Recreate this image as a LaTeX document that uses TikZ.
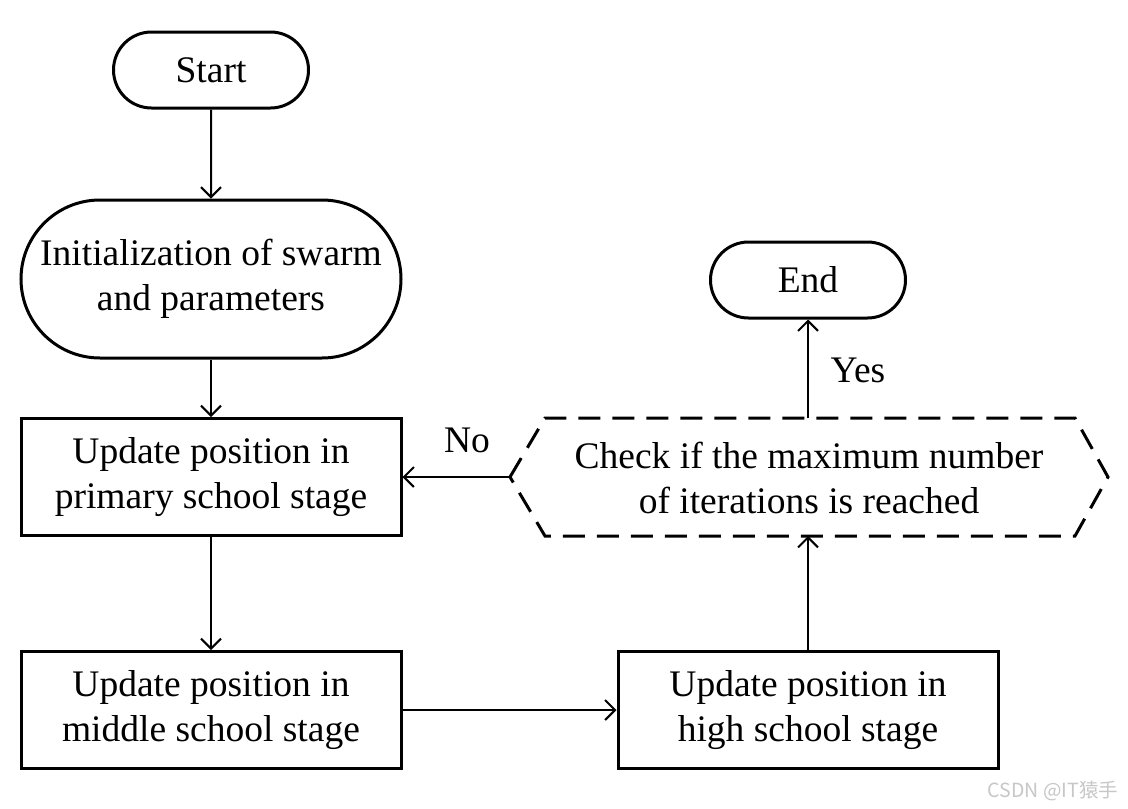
\documentclass[tikz,border=0pt]{standalone}
\usepackage{fontspec}
\setmainfont{Liberation Serif}
\newfontfamily\cjkfont{Noto Sans CJK SC}
\usetikzlibrary{arrows.meta,shapes.misc}
\begin{document}
\begin{tikzpicture}[x=1pt,y=-1pt,
  every node/.style={font=\fontsize{37.5}{45}\selectfont, align=center},
  term/.style={draw, rounded rectangle, line width=3pt, minimum width=195pt, minimum height=76pt, inner sep=0pt},
  init/.style={draw, rounded rectangle, line width=3pt, minimum width=380pt, minimum height=158pt, inner sep=0pt},
  proc/.style={draw, rectangle, line width=3pt, minimum width=380pt, minimum height=117pt, inner sep=0pt},
  conn/.style={line width=2pt, -{Straight Barb[length=10pt,width=20pt,line width=2pt]}},
  hexline/.style={line width=3pt, dash pattern=on 22pt off 12pt, line join=miter},
  lbl/.style={inner sep=0pt},
  wm/.style={inner sep=0pt, text=black!22, font=\cjkfont\fontsize{19.5}{22}\selectfont}
]
\useasboundingbox (0,0) rectangle (1128,809);
\fill[white] (0,0) rectangle (1128,809);

\node[term] (start) at (211,70) {Start};
\node[init] (init) at (211,279) {Initialization of swarm\\and parameters};
\node[proc] (prim) at (211,477) {Update position in\\primary school stage};
\node[proc] (mid) at (211,710) {Update position in\\middle school stage};
\node[proc] (high) at (808,710) {Update position in\\high school stage};
\node[term] (end) at (808,280) {End};

\node[inner sep=0pt] (check) at (809,478) {Check if the maximum number\\of iterations is reached};
\coordinate (hexL) at (510,477);
\coordinate (hexR) at (1108,477);
\coordinate (hexT) at (808,418);
\coordinate (hexB) at (808,536);
\draw[hexline] (hexL) -- (545,418) -- (1075,418) -- (hexR) -- (1075,536) -- (545,536) -- cycle;

\draw[conn] (start) -- (init);
\draw[conn] (init) -- (prim);
\draw[conn] (prim) -- (mid);
\draw[conn] (mid) -- (high);
\draw[conn] (high) -- (hexB);
\draw[conn] (hexT) -- (end);
\draw[conn] (hexL) -- (prim.east);

\node[lbl] (no) at (467,440) {No};
\node[lbl] (yes) at (858,370) {Yes};

\node[wm] (mark) at (1053,791) {CSDN @IT猿手};
\end{tikzpicture}
\end{document}
